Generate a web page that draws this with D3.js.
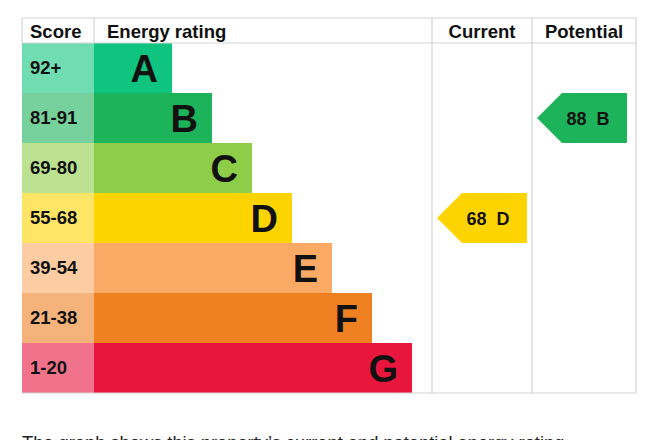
<!DOCTYPE html>
<html>
<head>
<meta charset="utf-8">
<script src="https://cdn.jsdelivr.net/npm/d3@7"></script>
<style>
  html, body { margin: 0; padding: 0; background: #fff; }
  svg { display: block; font-family: "Liberation Sans", Arial, sans-serif; }
</style>
</head>
<body>
<div id="epc"></div>
<script>
// EPC rating chart - bands, score ranges, current & potential
const bands = ["A", "B", "C", "D", "E", "F", "G"];
const scoreRanges = ["92+", "81-91", "69-80", "55-68", "39-54", "21-38", "1-20"];
const bandThresholds = [21, 39, 55, 69, 81, 92];
const headers = ["Score", "Energy rating", "Current", "Potential"];
const currentScore = 68;
const potentialScore = 88;
const caption = "The graph shows this property\u2019s current and potential energy rating.";

const width = 647;
const height = 440;

// column edges
const colLeft = 22, scoreRight = 94, ratingRight = 432, currentRight = 532, colRight = 636;
const tableTop = 18, headBottom = 43, tableBottom = 393;

const color = d3.scaleOrdinal()
    .domain(bands)
    .range(["#0fc47e", "#1db35a", "#8dcd47", "#fed400", "#fbaa65", "#ef8123", "#e8163d"]);

const bandOf = d3.scaleThreshold()
    .domain(bandThresholds)
    .range(bands.slice().reverse());

const y = d3.scaleBand()
    .domain(bands)
    .range([headBottom, tableBottom]);

// bar end per band
const xEnd = d3.scalePoint()
    .domain(bands)
    .range([172, 412]);

const svg = d3.select("#epc").append("svg")
    .attr("width", width)
    .attr("height", height);

const grid = "#d4d4d4";

// header row
const headerX = [colLeft + 8, scoreRight + 13, (ratingRight + currentRight) / 2, (currentRight + colRight) / 2];
const headerAnchor = ["start", "start", "middle", "middle"];
svg.append("g")
    .selectAll("text")
    .data(headers)
    .join("text")
    .attr("x", (d, i) => headerX[i])
    .attr("y", 38)
    .attr("text-anchor", (d, i) => headerAnchor[i])
    .attr("font-size", "18.5px")
    .attr("font-weight", "bold")
    .attr("fill", "#111")
    .text(d => d);

// rows
const row = svg.append("g")
    .selectAll("g")
    .data(bands)
    .join("g");

row.append("rect")
    .attr("x", colLeft)
    .attr("y", d => y(d))
    .attr("width", scoreRight - colLeft)
    .attr("height", y.bandwidth())
    .attr("fill", d => color(d))
    .attr("fill-opacity", 0.6);

row.append("rect")
    .attr("x", scoreRight)
    .attr("y", d => y(d))
    .attr("width", d => xEnd(d) - scoreRight)
    .attr("height", y.bandwidth())
    .attr("fill", d => color(d));

row.append("text")
    .attr("x", colLeft + 8)
    .attr("y", d => y(d) + y.bandwidth() / 2 + 5.5)
    .attr("font-size", "18.5px")
    .attr("font-weight", "bold")
    .attr("fill", "#111")
    .text((d, i) => scoreRanges[i]);

row.append("text")
    .attr("x", d => xEnd(d) - 14)
    .attr("y", d => y(d) + y.bandwidth() / 2 + 14)
    .attr("text-anchor", "end")
    .attr("font-size", "38px")
    .attr("font-weight", "bold")
    .attr("fill", "#111")
    .text(d => d);

// grid lines
const lines = svg.append("g").attr("stroke", grid).attr("stroke-width", 1.2);
lines.append("line").attr("x1", colLeft).attr("x2", colRight).attr("y1", tableTop).attr("y2", tableTop);
lines.append("line").attr("x1", colLeft).attr("x2", colRight).attr("y1", headBottom).attr("y2", headBottom);
lines.append("line").attr("x1", colLeft).attr("x2", colRight).attr("y1", tableBottom).attr("y2", tableBottom);
lines.append("line").attr("x1", colLeft).attr("x2", colLeft).attr("y1", tableTop).attr("y2", headBottom);
lines.append("line").attr("x1", scoreRight).attr("x2", scoreRight).attr("y1", tableTop).attr("y2", headBottom);
[ratingRight, currentRight, colRight].forEach(x => {
    lines.append("line").attr("x1", x).attr("x2", x).attr("y1", tableTop).attr("y2", tableBottom);
});

// rating arrows
function arrow(score, x0, x1) {
    const band = bandOf(score);
    const y0 = y(band), h = y.bandwidth();
    const tip = x0 + 5, end = x1 - 5, notch = 25;
    const g = svg.append("g");
    g.append("path")
        .attr("d", `M${tip},${y0 + h / 2} L${tip + notch},${y0} L${end},${y0} L${end},${y0 + h} L${tip + notch},${y0 + h} Z`)
        .attr("fill", color(band));
    g.append("text")
        .attr("x", tip + 51)
        .attr("y", y0 + h / 2 + 6.5)
        .attr("text-anchor", "middle")
        .attr("font-size", "18px")
        .attr("font-weight", "bold")
        .attr("fill", "#111")
        .text(`${score}\u00a0\u00a0${band}`);
}
arrow(currentScore, ratingRight, currentRight);
arrow(potentialScore, currentRight, colRight - 4);

// caption under the chart (cut off by the window, as in the original)
svg.append("text")
    .attr("x", colLeft)
    .attr("y", 449)
    .attr("font-size", "18.3px")
    .attr("fill", "#222")
    .text(caption);
</script>
</body>
</html>
